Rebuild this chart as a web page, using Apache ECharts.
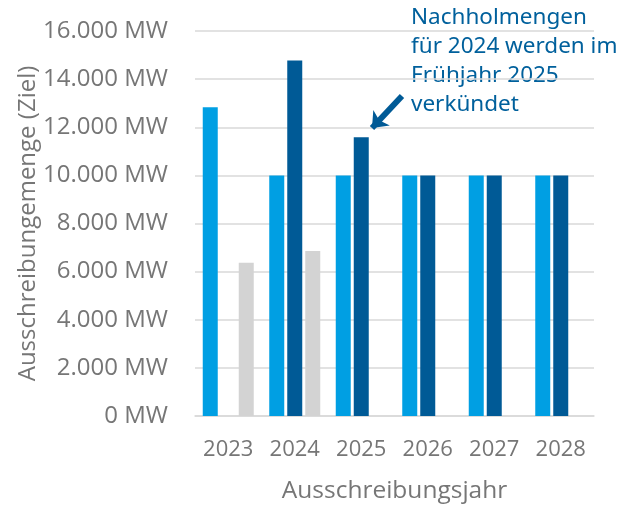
<!DOCTYPE html>
<html>
<head>
<meta charset="utf-8">
<script src="https://cdn.jsdelivr.net/npm/echarts@6/dist/echarts.min.js"></script>
<style>
  html, body { margin: 0; padding: 0; background: #fff; }
  #main { width: 621px; height: 510px; }
</style>
</head>
<body>
<div id="main"></div>
<script>
// Ausschreibungsjahre und Mengen in MW
const years = ["2023", "2024", "2025", "2026", "2027", "2028"];
const zielMenge = [12830, 10000, 10000, 10000, 10000, 10000];
const nachholMenge = [null, 14770, 11580, 10000, 10000, 10000];
const bezuschlagt = [6370, 6860, null, null, null, null];
const yTicks = [0, 2000, 4000, 6000, 8000, 10000, 12000, 14000, 16000];

const font = "Open Sans";
const grey = "#767676";

let myChart = echarts.init(document.getElementById("main"));

let options = {
  animation: false,
  grid: { left: 195, right: 27, top: 31, bottom: 94 },
  xAxis: {
    type: "category",
    data: years,
    name: "Ausschreibungsjahr",
    nameLocation: "middle",
    nameGap: 63,
    nameTextStyle: { color: grey, fontFamily: font, fontSize: 24.5 },
    axisLine: { lineStyle: { color: "#d9d9d9", width: 1.5 } },
    axisTick: { show: false },
    axisLabel: { color: grey, fontFamily: font, fontSize: 22, margin: 23 },
  },
  yAxis: {
    type: "value",
    min: yTicks[0],
    max: yTicks[yTicks.length - 1],
    interval: 2000,
    name: "Ausschreibungemenge (Ziel)",
    nameLocation: "middle",
    nameGap: 155,
    nameMoveOverlap: false,
    nameTextStyle: { color: grey, fontFamily: font, fontSize: 24 },
    axisLine: { show: false },
    axisTick: { show: false },
    splitLine: { lineStyle: { color: "#d9d9d9", width: 1.5 } },
    axisLabel: {
      color: grey,
      fontFamily: font,
      fontSize: 24,
      margin: 27,
      // deutsche Tausendertrennung
      formatter: (v) => v.toLocaleString("de-DE") + " MW",
    },
  },
  series: [
    {
      type: "bar",
      data: zielMenge,
      barWidth: 15,
      barGap: "20%",
      itemStyle: { color: "#009fe3" },
    },
    {
      type: "bar",
      data: nachholMenge,
      barWidth: 15,
      itemStyle: { color: "#005a96" },
      markLine: {
        silent: true,
        symbol: ["none", "arrow"],
        symbolSize: [17, 14],
        label: { show: false },
        lineStyle: { color: "#005a96", width: 6, type: "solid" },
        data: [[{ x: 402, y: 96 }, { x: 372, y: 128 }]],
      },
    },
    {
      type: "bar",
      data: bezuschlagt,
      barWidth: 15,
      itemStyle: { color: "#d3d3d3" },
    },
  ],
  graphic: [
    {
      type: "text",
      left: 411,
      top: 3,
      style: {
        text: "Nachholmengen\nfür 2024 werden im\nFrühjahr 2025\nverkündet",
        fill: "#00609c",
        font: "22.5px 'Noto Sans'",
        lineHeight: 29,
      },
    },
  ],
};

myChart.setOption(options);
</script>
</body>
</html>
